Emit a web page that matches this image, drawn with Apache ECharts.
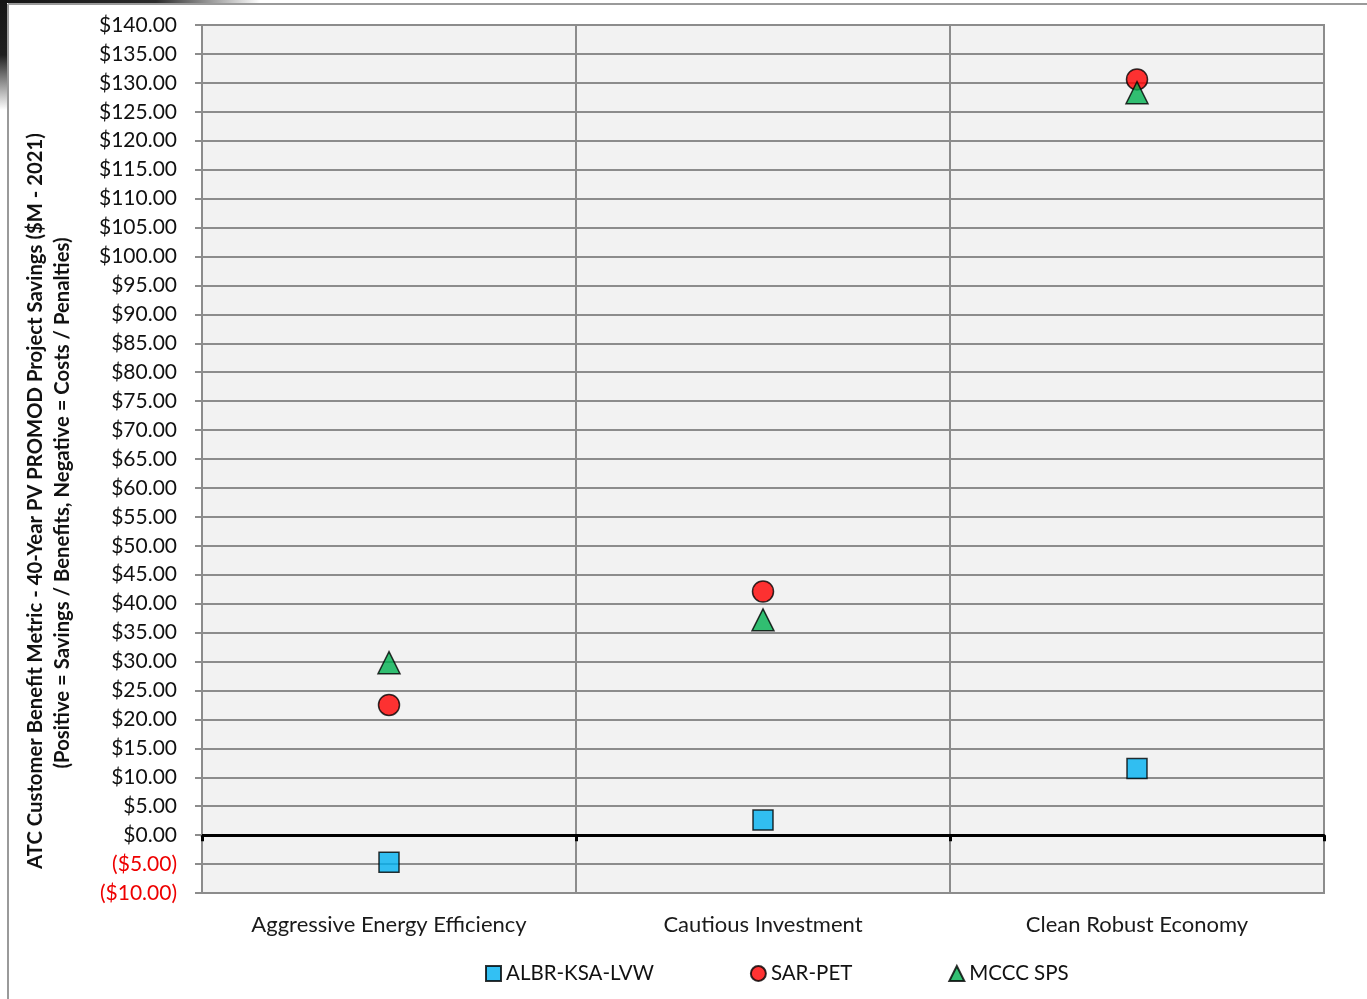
<!DOCTYPE html>
<html>
<head>
<meta charset="utf-8">
<script src="https://cdn.jsdelivr.net/npm/echarts@6/dist/echarts.min.js"></script>
<style>
  html, body { margin: 0; padding: 0; background: #ffffff; }
  #chart { width: 1367px; height: 999px; }
</style>
</head>
<body>
<div id="chart"></div>
<script>
// Scenario categories along the x axis
const categories = ['Aggressive Energy Efficiency', 'Cautious Investment', 'Clean Robust Economy'];

// Project savings per scenario ($M - 2021)
const albrKsaLvw = [-4.7, 2.6, 11.5];
const sarPet = [22.5, 42.1, 130.6];
const mcccSps = [29.8, 37.2, 128.3];

const seriesNames = ['ALBR-KSA-LVW', 'SAR-PET', 'MCCC SPS'];

// Value axis range
const yMin = -10;
const yMax = 140;
const yStep = 5;

const yTitle1 = 'ATC Customer Benefit Metric - 40-Year PV PROMOD Project Savings ($M - 2021)';
const yTitle2 = '(Positive = Savings / Benefits, Negative = Costs / Penalties)';

const FONT = 'Lato, "Open Sans", sans-serif';
const GRID_GRAY = '#8c8c8c';

function money(v) {
  if (v < 0) return '{neg|($' + Math.abs(v).toFixed(2) + ')}';
  return '$' + v.toFixed(2);
}

const chart = echarts.init(document.getElementById('chart'), null, { renderer: 'canvas' });

const markerBorder = { borderColor: '#000000', borderWidth: 1.5 };

chart.setOption({
  animation: false,
  backgroundColor: '#ffffff',
  textStyle: { fontFamily: FONT },
  grid: {
    left: 202, right: 43, top: 25, bottom: 106,
    show: true, backgroundColor: '#f2f2f2',
    borderColor: GRID_GRAY, borderWidth: 2
  },
  legend: {
    left: 480, top: 958,
    itemWidth: 15, itemHeight: 15, itemGap: 96,
    textStyle: { fontFamily: FONT, fontSize: 20.5, color: '#111111' },
    data: seriesNames
  },
  graphic: [
    // outer frame
    { type: 'line', shape: { x1: 8, y1: 4, x2: 8, y2: 999 }, style: { stroke: '#9a9a9a', lineWidth: 2 }, silent: true },
    { type: 'line', shape: { x1: 8, y1: 4, x2: 1367, y2: 4 }, style: { stroke: '#9a9a9a', lineWidth: 2 }, silent: true },
    // dark corner shading
    { type: 'rect', shape: { x: 0, y: 0, width: 260, height: 3 },
      style: { fill: new echarts.graphic.LinearGradient(0, 0, 1, 0, [
        { offset: 0, color: 'rgba(20,20,20,1)' }, { offset: 0.6, color: 'rgba(20,20,20,0.9)' }, { offset: 1, color: 'rgba(20,20,20,0)' }]) }, silent: true },
    { type: 'rect', shape: { x: 0, y: 0, width: 7, height: 110 },
      style: { fill: new echarts.graphic.LinearGradient(0, 0, 0, 1, [
        { offset: 0, color: 'rgba(20,20,20,1)' }, { offset: 0.5, color: 'rgba(20,20,20,0.95)' }, { offset: 1, color: 'rgba(20,20,20,0)' }]) }, silent: true },
    // rotated axis title
    { type: 'text', x: 35, y: 501, rotation: Math.PI / 2,
      style: { text: yTitle1, fontFamily: FONT, fontWeight: 'bold', fontSize: 20.3, fill: '#111111', align: 'center', verticalAlign: 'middle' } },
    { type: 'text', x: 62, y: 503, rotation: Math.PI / 2,
      style: { text: yTitle2, fontFamily: FONT, fontWeight: 'bold', fontSize: 20.3, fill: '#111111', align: 'center', verticalAlign: 'middle' } }
  ],
  xAxis: [
    {
      // zero line with boundary ticks
      type: 'category', data: categories, boundaryGap: true,
      axisLine: { onZero: true, lineStyle: { color: '#000000', width: 3 } },
      axisTick: { show: true, length: 6, lineStyle: { color: '#000000', width: 3 } },
      axisLabel: { show: false },
      splitLine: { show: true, lineStyle: { color: GRID_GRAY, width: 2 } }
    },
    {
      // category labels along the bottom
      type: 'category', data: categories, position: 'bottom', boundaryGap: true,
      axisLine: { show: false, onZero: false },
      axisTick: { show: false },
      splitLine: { show: false },
      axisLabel: { margin: 21, fontFamily: FONT, fontSize: 22, color: '#1a1a1a' }
    }
  ],
  yAxis: {
    type: 'value', min: yMin, max: yMax, interval: yStep,
    axisLine: { show: true, lineStyle: { color: GRID_GRAY, width: 2 } },
    axisTick: { show: true, length: 7, lineStyle: { color: GRID_GRAY, width: 2 } },
    splitLine: { show: true, lineStyle: { color: GRID_GRAY, width: 2 } },
    axisLabel: {
      margin: 25, fontFamily: FONT, fontSize: 21, color: '#111111',
      formatter: money,
      rich: { neg: { color: '#ee0000', fontFamily: FONT, fontSize: 21 } }
    }
  },
  series: [
    { name: seriesNames[0], type: 'scatter', xAxisIndex: 0, data: albrKsaLvw,
      symbol: 'rect', symbolSize: 20,
      itemStyle: Object.assign({ color: '#00b0f0' }, markerBorder) },
    { name: seriesNames[1], type: 'scatter', xAxisIndex: 0, data: sarPet,
      symbol: 'circle', symbolSize: 21,
      itemStyle: Object.assign({ color: '#ff0000' }, markerBorder) },
    { name: seriesNames[2], type: 'scatter', xAxisIndex: 0, data: mcccSps,
      symbol: 'triangle', symbolSize: [22, 22],
      itemStyle: Object.assign({ color: '#00b050' }, markerBorder) }
  ]
});
</script>
</body>
</html>
